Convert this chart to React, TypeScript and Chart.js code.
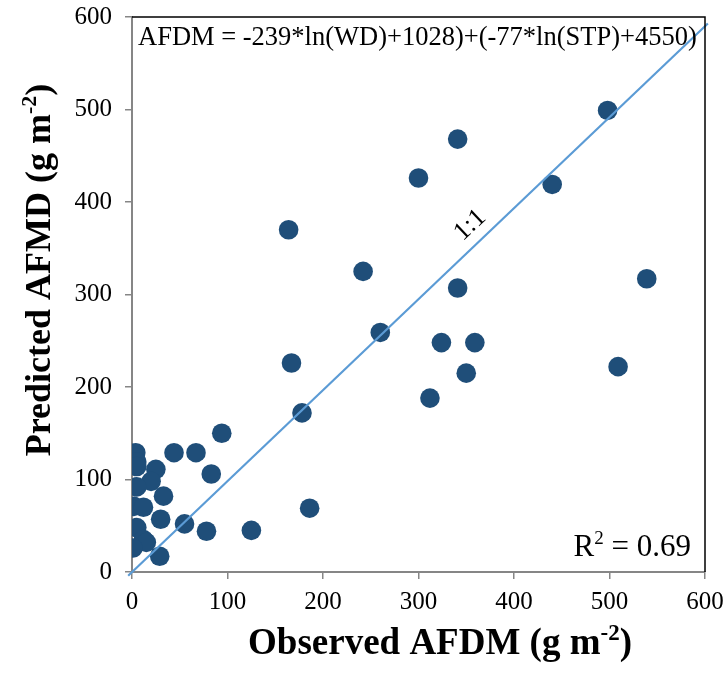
import React, { useEffect, useRef } from "react";
import { Chart, registerables } from "chart.js";
Chart.register(...registerables);

const observed = [4, 5, 5, 25, 20, 5, 33, 2, 12, 30, 55, 78, 125, 5, 12, 15, 1, 29, 44, 67, 83, 94, 178, 186,
  498, 341, 300, 440, 164, 242, 341, 539, 260, 324, 359, 167, 350, 509, 312];
const predicted = [129, 119, 114, 111, 98, 92, 82, 71, 70, 57, 52, 44, 45, 48, 35, 32, 26, 17, 129, 129, 106, 150, 172, 69,
  499, 468, 426, 419, 370, 325, 307, 317, 259, 248, 248, 226, 215, 222, 188];
const lineX = [-4, 603];
const lineY = [-4, 593];
const tickMin = 0;
const tickMax = 600;
const tickStep = 100;
const equationText = "AFDM = -239*ln(WD)+1028)+(-77*ln(STP)+4550)";
const r2Label = "R";
const r2Value = " = 0.69";
const oneToOne = "1:1";

const SERIF = "'Liberation Serif', 'Times New Roman', serif";

function measureSup(ctx: CanvasRenderingContext2D, main: string, sup: string, tail: string, size: number, bold: boolean) {
  const w = bold ? "bold " : "";
  ctx.font = `${w}${size}px ${SERIF}`;
  const w1 = ctx.measureText(main).width;
  ctx.font = `${w}${Math.round(size * 0.62)}px ${SERIF}`;
  const w2 = ctx.measureText(sup).width;
  ctx.font = `${w}${size}px ${SERIF}`;
  const w3 = ctx.measureText(tail).width;
  return { w1, w2, w3, total: w1 + w2 + w3 };
}

function renderSup(ctx: CanvasRenderingContext2D, x: number, y: number, main: string, sup: string, tail: string, size: number, bold: boolean) {
  const m = measureSup(ctx, main, sup, tail, size, bold);
  const w = bold ? "bold " : "";
  ctx.textAlign = "left";
  ctx.textBaseline = "alphabetic";
  ctx.font = `${w}${size}px ${SERIF}`;
  ctx.fillText(main, x, y);
  ctx.font = `${w}${Math.round(size * 0.62)}px ${SERIF}`;
  ctx.fillText(sup, x + m.w1, y - size * 0.38);
  ctx.font = `${w}${size}px ${SERIF}`;
  ctx.fillText(tail, x + m.w1 + m.w2, y);
  return m;
}

const decor = {
  id: "decor",
  afterDraw(chart: any) {
    const ctx: CanvasRenderingContext2D = chart.ctx;
    const { left, right, top, bottom } = chart.chartArea;
    const xs = chart.scales.x;
    const ys = chart.scales.y;
    ctx.save();
    ctx.strokeStyle = "#000";
    ctx.lineWidth = 1.5;
    ctx.beginPath();
    ctx.moveTo(left, top);
    ctx.lineTo(right, top);
    ctx.lineTo(right, bottom);
    ctx.stroke();
    ctx.fillStyle = "#000";
    // equation
    ctx.font = `26.5px ${SERIF}`;
    ctx.textAlign = "left";
    ctx.textBaseline = "alphabetic";
    ctx.fillText(equationText, left + 6, top + 28);
    // R2
    const m = measureSup(ctx, r2Label, "2", r2Value, 31, false);
    renderSup(ctx, right - 14 - m.total, bottom - 16, r2Label, "2", r2Value, 31, false);
    // 1:1 label
    const px = xs.getPixelForValue(354);
    const py = ys.getPixelForValue(375);
    ctx.save();
    ctx.translate(px, py);
    ctx.rotate(-Math.PI * 0.24);
    ctx.font = `26px ${SERIF}`;
    ctx.textAlign = "center";
    ctx.textBaseline = "middle";
    ctx.fillText(oneToOne, 0, 0);
    ctx.restore();
    // x title
    const xt = measureSup(ctx, "Observed AFDM (g m", "-2", ")", 37, true);
    renderSup(ctx, 440 - xt.total / 2, 654, "Observed AFDM (g m", "-2", ")", 37, true);
    // y title
    ctx.save();
    ctx.translate(50, 270);
    ctx.rotate(-Math.PI / 2);
    const yt = measureSup(ctx, "Predicted AFMD (g m", "-2", ")", 36, true);
    renderSup(ctx, -yt.total / 2, 0, "Predicted AFMD (g m", "-2", ")", 36, true);
    ctx.restore();
    ctx.restore();
  },
};

export default function App() {
  const ref = useRef<HTMLCanvasElement>(null);
  useEffect(() => {
    document.body.style.margin = "0";
    const canvas = ref.current!;
    const pts = observed.map((x, i) => ({ x, y: predicted[i] }));
    const line = lineX.map((x, i) => ({ x, y: lineY[i] }));
    const axisCommon = (isX: boolean) => ({
      type: "linear" as const,
      min: tickMin,
      max: tickMax,
      ticks: {
        stepSize: tickStep,
        color: "#000",
        font: { family: SERIF, size: 25 },
        padding: isX ? 8 : 13,
      },
      grid: {
        drawOnChartArea: false,
        drawTicks: true,
        tickLength: 7,
        color: "#868686",
        lineWidth: 1.5,
      },
      border: { color: "#868686", width: 2 },
      afterFit: (scale: any) => {
        if (isX) scale.height = 109;
        else scale.width = 132;
        scale.paddingTop = 0;
        scale.paddingBottom = 0;
        scale.paddingLeft = 0;
        scale.paddingRight = 0;
      },
    });
    const chart = new Chart(canvas, {
      type: "scatter",
      data: {
        datasets: [
          {
            type: "line",
            data: line,
            borderColor: "#5B9BD5",
            borderWidth: 2.2,
            pointRadius: 0,
            clip: false as any,
            order: 0,
            showLine: true,
          } as any,
          {
            type: "scatter",
            data: pts,
            backgroundColor: "#1F4E79",
            borderColor: "#1F4E79",
            pointRadius: 9.8,
            borderWidth: 0,
            order: 1,
          },
        ],
      },
      options: {
        responsive: false,
        animation: false,
        layout: { padding: { left: 0, right: 23, top: 17, bottom: 0 } },
        plugins: { legend: { display: false }, tooltip: { enabled: false } },
        scales: { x: axisCommon(true), y: axisCommon(false) } as any,
      },
      plugins: [decor],
    });
    return () => chart.destroy();
  }, []);
  return (
    <div style={{ width: 728, height: 681 }}>
      <canvas ref={ref} width={728} height={681} />
    </div>
  );
}
